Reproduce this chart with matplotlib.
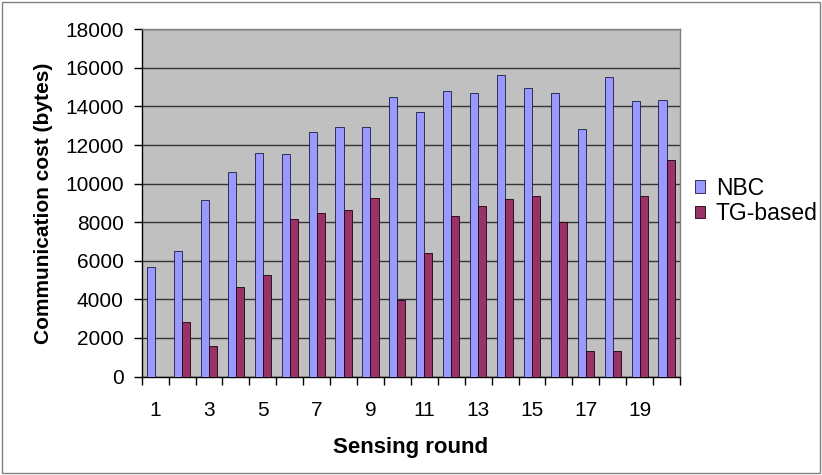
import matplotlib.pyplot as plt
import numpy as np
from matplotlib.patches import Rectangle

plt.rcParams['font.family'] = ['Liberation Sans', 'DejaVu Sans']

rounds = list(range(1, 21))
nbc = [5700, 6500, 9150, 10580, 11580, 11530, 12670, 12910, 12950, 14490,
       13730, 14800, 14700, 15630, 14970, 14700, 12820, 15520, 14280, 14330]
tg = [0, 2850, 1560, 4620, 5240, 8150, 8460, 8620, 9240, 3980,
      6390, 8310, 8860, 9210, 9350, 8000, 1330, 1300, 9380, 11250]

fig = plt.figure(figsize=(8.22, 4.75), dpi=100)
ax = fig.add_axes([141.7 / 822, 1 - 376.5 / 475, (680 - 141.7) / 822, (376.5 - 29.3) / 475])

x = np.arange(len(rounds))
w = 0.3
ax.bar(x - w / 2, nbc, w, color='#9999FF', edgecolor='#1a1a40', linewidth=0.6, label='NBC', zorder=3)
ax.bar(x + w / 2, tg, w, color='#993366', edgecolor='#1a0010', linewidth=0.6, label='TG-based', zorder=3)

ax.set_facecolor('#C0C0C0')
ax.set_xlim(-0.5, len(rounds) - 0.5)
ax.set_ylim(0, 18000)
ax.set_yticks(range(0, 18001, 2000))
ax.yaxis.grid(True, color='#333333', linewidth=1.0, zorder=1)
ax.set_axisbelow(True)

# Excel-style: tick marks between categories, labels on odd rounds
ax.set_xticks(np.arange(-0.5, len(rounds)), minor=False)
ax.set_xticklabels([])
ax.set_xticks(x[::2], minor=True)
ax.set_xticklabels([str(r) for r in rounds[::2]], minor=True)
ax.tick_params(axis='x', which='major', length=6, width=1, color='black', direction='out')
ax.tick_params(axis='x', which='minor', length=0, pad=18, labelsize=15)
ax.tick_params(axis='y', length=6, width=1, color='black', direction='out', labelsize=15, pad=7)

for s in ['top', 'right']:
    ax.spines[s].set_color('#808080')
    ax.spines[s].set_linewidth(1)
for s in ['left', 'bottom']:
    ax.spines[s].set_color('black')
    ax.spines[s].set_linewidth(1)

ax.set_xlabel('Sensing round', fontsize=16, fontweight='bold', labelpad=12)
ax.set_ylabel('Communication cost (bytes)', fontsize=15, fontweight='bold', labelpad=9)

fig.legend(loc='center left', bbox_to_anchor=(695 / 822, 1 - 201 / 475), frameon=False,
           fontsize=16.5, handlelength=0.45, handleheight=0.45, handletextpad=0.45,
           labelspacing=0.12, borderaxespad=0, borderpad=0)

fig.patches.append(Rectangle((0.003, 0.004), 0.994, 0.992, transform=fig.transFigure,
                             fill=False, edgecolor='#808080', linewidth=1))

fig.savefig('out.png', dpi=100)
